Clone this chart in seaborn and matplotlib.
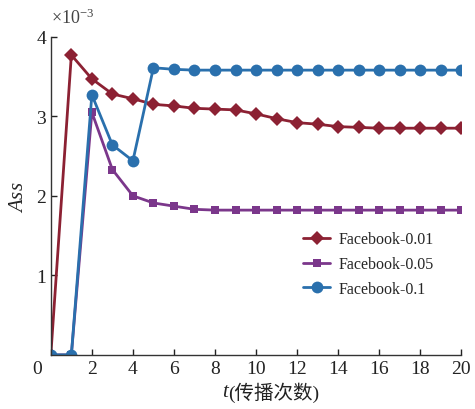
import numpy as np
import pandas as pd
import matplotlib
matplotlib.use("Agg")
import matplotlib.pyplot as plt
import matplotlib.transforms as mtransforms
import seaborn as sns

# values in units of 1e-3
t = list(range(21))
fb_001 = [0, 3.77, 3.47, 3.28, 3.22, 3.15, 3.13, 3.10, 3.09, 3.08, 3.03, 2.97,
          2.92, 2.90, 2.87, 2.86, 2.85, 2.85, 2.85, 2.85, 2.85]
fb_005 = [0, 0, 3.05, 2.33, 2.00, 1.91, 1.87, 1.83, 1.82, 1.82, 1.82, 1.82,
          1.82, 1.82, 1.82, 1.82, 1.82, 1.82, 1.82, 1.82, 1.82]
fb_01 = [0, 0, 3.27, 2.64, 2.44, 3.61, 3.59, 3.58, 3.58, 3.58, 3.58, 3.58,
         3.58, 3.58, 3.58, 3.58, 3.58, 3.58, 3.58, 3.58, 3.58]
labels = ["Facebook-0.01", "Facebook-0.05", "Facebook-0.1"]

sns.set_style("ticks")
plt.rcParams["font.family"] = ["Liberation Serif", "Noto Sans CJK SC"]
plt.rcParams["mathtext.fontset"] = "custom"
plt.rcParams["mathtext.rm"] = "Liberation Serif"
plt.rcParams["mathtext.it"] = "Liberation Serif:italic"

fig = plt.figure(figsize=(4.75, 4.1), dpi=100)
ax = fig.add_axes([0.107, 0.132, 0.864, 0.776])

colors = ["#8c2133", "#7b378b", "#2a70ad"]
markers = ["D", "s", "o"]
msizes = [7, 6, 8.5]
for ys, lab, c, m, ms in zip([fb_001, fb_005, fb_01], labels, colors, markers, msizes):
    df = pd.DataFrame({"t": t, "v": ys})
    sns.lineplot(data=df, x="t", y="v", ax=ax, color=c, marker=m, markersize=ms,
                 markeredgewidth=0, linewidth=2, label=lab)

ax.set_xlim(0, 20)
ax.set_ylim(0, 4)
ax.set_xticks(range(0, 21, 2))
ax.set_yticks([1, 2, 3, 4])
ax.tick_params(direction="in", length=4, width=1, labelsize=14, colors="#222222")
sns.despine(ax=ax)
for s in ["left", "bottom"]:
    ax.spines[s].set_linewidth(1)
    ax.spines[s].set_color("#333333")

# shift the "0" x tick label left like the original
lab0 = ax.get_xticklabels()[0]
lab0.set_transform(lab0.get_transform() +
                   mtransforms.ScaledTranslation(-0.14, 0, fig.dpi_scale_trans))

ax.set_xlabel("")
ax.text(0.432, -0.115, "t", transform=ax.transAxes, fontsize=15, style="italic",
        ha="right", va="center", color="#222222")
ax.text(0.432, -0.115, "(传播次数)", transform=ax.transAxes, fontsize=14,
        family=["Liberation Serif", "Noto Sans CJK SC"],
        ha="left", va="center", color="#222222")
ax.set_ylabel("$Ass$", fontsize=15, labelpad=6)
ax.text(0.0, 1.03, r"$\times\mathregular{10^{-3}}$", transform=ax.transAxes,
        fontsize=13, color="#444444", ha="left", va="bottom")

ax.legend(loc="center left", bbox_to_anchor=(0.58, 0.285), frameon=False,
          fontsize=11.5, handlelength=1.7, handletextpad=0.5, labelspacing=0.55)

fig.savefig("out.png", dpi=100)
